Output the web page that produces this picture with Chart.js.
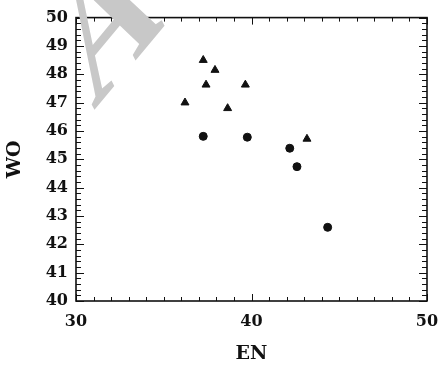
<!DOCTYPE html>
<html>
<head>
<meta charset="utf-8">
<script src="https://cdn.jsdelivr.net/npm/chart.js@4/dist/chart.umd.min.js"></script>
<style>
  html, body { margin: 0; padding: 0; background: #fff; }
  canvas { display: block; }
</style>
</head>
<body>
<canvas id="chart" width="441" height="365"></canvas>
<script>
// Triangle series (EN, WO)
const triangleEN = [36.21, 37.25, 37.92, 37.41, 39.65, 38.64, 43.16];
const triangleWO = [47.00, 48.50, 48.15, 47.63, 47.63, 46.80, 45.72];
// Circle series (EN, WO)
const circleEN = [37.25, 39.76, 42.18, 42.59, 44.34];
const circleWO = [45.81, 45.78, 45.39, 44.74, 42.60];

// Axis ranges and labelled ticks
const xRange = [30, 50];
const yRange = [40, 50];
const xTickLabels = [30, 40, 50];
const yTickLabels = [40, 41, 42, 43, 44, 45, 46, 47, 48, 49, 50];
const xTitle = 'EN';
const yTitle = 'WO';
const stampText = 'ACCEPTED MANUSCRIPT';

const toPoints = (xs, ys) => xs.map((v, i) => ({ x: v, y: ys[i] }));

const serif = '"DejaVu Serif", "Liberation Serif", serif';
const ink = '#111';

// Closed frame with inward major/minor ticks on all four sides
const frameTicks = {
  id: 'frameTicks',
  afterDatasetsDraw(chart) {
    const { ctx, chartArea: a, scales: { x, y } } = chart;
    ctx.save();
    ctx.strokeStyle = ink;
    ctx.lineWidth = 1;
    const seg = (x1, y1, x2, y2) => { ctx.beginPath(); ctx.moveTo(x1, y1); ctx.lineTo(x2, y2); ctx.stroke(); };
    for (let v = xRange[0]; v <= xRange[1]; v += 1) {
      const px = Math.round(x.getPixelForValue(v)) + 0.5;
      const len = xTickLabels.includes(v) ? 7 : 4;
      seg(px, a.bottom, px, a.bottom - len);
      seg(px, a.top, px, a.top + len);
    }
    const steps = Math.round((yRange[1] - yRange[0]) / 0.2);
    for (let i = 0; i <= steps; i++) {
      const v = yRange[0] + i * 0.2;
      const py = Math.round(y.getPixelForValue(v)) + 0.5;
      const len = i % 5 === 0 ? 8 : 5;
      seg(a.left, py, a.left + len, py);
      seg(a.right, py, a.right - len, py);
    }
    ctx.lineWidth = 1.6;
    ctx.strokeRect(a.left, a.top, a.right - a.left, a.bottom - a.top);
    ctx.restore();
  }
};

// Light diagonal stamp, squeezed horizontally, across the upper left
const stamp = {
  id: 'stamp',
  afterDraw(chart) {
    const ctx = chart.ctx;
    ctx.save();
    ctx.fillStyle = '#c8c8c8';
    ctx.font = 'bold 194px "Liberation Serif"';
    ctx.textBaseline = 'alphabetic';
    ctx.scale(0.65, 1);
    ctx.translate(144, 111);
    ctx.rotate(-38 * Math.PI / 180);
    ctx.fillText(stampText, 0, 0);
    ctx.restore();
  }
};

new Chart(document.getElementById('chart'), {
  type: 'scatter',
  data: {
    datasets: [
      {
        label: 'triangles',
        data: toPoints(triangleEN, triangleWO),
        pointStyle: 'triangle',
        pointRadius: 4.6,
        pointBorderWidth: 1,
        backgroundColor: ink,
        borderColor: ink
      },
      {
        label: 'circles',
        data: toPoints(circleEN, circleWO),
        pointStyle: 'circle',
        pointRadius: 4,
        pointBorderWidth: 1,
        backgroundColor: ink,
        borderColor: ink
      }
    ]
  },
  options: {
    responsive: false,
    animation: false,
    layout: { padding: { top: 16, right: 14, left: 0, bottom: 0 } },
    plugins: { legend: { display: false }, tooltip: { enabled: false } },
    scales: {
      x: {
        type: 'linear',
        min: xRange[0],
        max: xRange[1],
        afterBuildTicks: s => { s.ticks = xTickLabels.map(v => ({ value: v })); },
        afterFit: s => { s.height = 64; s.paddingLeft = 0; s.paddingRight = 0; },
        grid: { display: false, drawTicks: false },
        border: { display: false },
        ticks: { color: ink, padding: 11, font: { family: serif, weight: 'bold', size: 16 } },
        title: { display: true, text: xTitle, color: ink, padding: 0, font: { family: serif, weight: 'bold', size: 19 } }
      },
      y: {
        type: 'linear',
        min: yRange[0],
        max: yRange[1],
        afterBuildTicks: s => { s.ticks = yTickLabels.map(v => ({ value: v })); },
        afterFit: s => { s.width = 76; },
        grid: { display: false, drawTicks: false },
        border: { display: false },
        ticks: { color: ink, padding: 8, font: { family: serif, weight: 'bold', size: 16 } },
        title: { display: true, text: yTitle, color: ink, padding: { top: 4 }, font: { family: serif, weight: 'bold', size: 19 } }
      }
    }
  },
  plugins: [frameTicks, stamp]
});
</script>
</body>
</html>
